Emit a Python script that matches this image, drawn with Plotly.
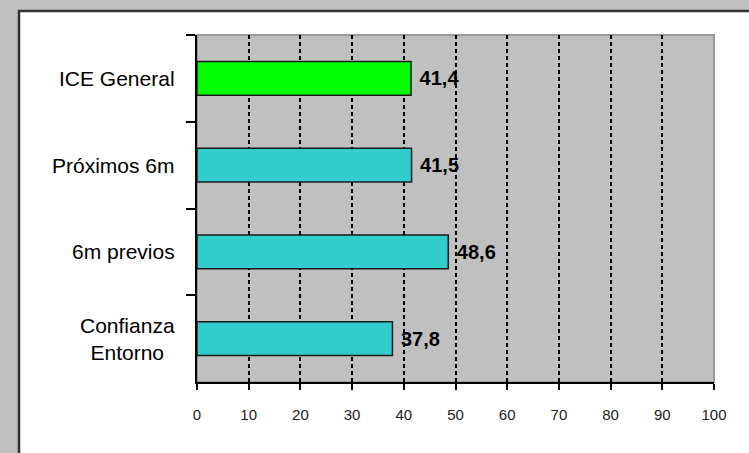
import plotly.graph_objects as go

categories = ["ICE General", "Próximos 6m", "6m previos", "Confianza<br>Entorno"]
values = [41.4, 41.5, 48.6, 37.8]
bar_colors = ["#00ff00", "#33cccc", "#33cccc", "#33cccc"]
x_ticks = [0, 10, 20, 30, 40, 50, 60, 70, 80, 90, 100]

FONT = "Liberation Sans, Arial, sans-serif"

fig = go.Figure(
    go.Bar(
        y=categories,
        x=values,
        orientation="h",
        width=0.39,
        marker=dict(color=bar_colors, line=dict(color="#1a1a1a", width=1.5)),
        texttemplate=" %{x:.1f}",
        textposition="outside",
        textfont=dict(family=FONT, size=20, color="#000000", weight="bold"),
        constraintext="none",
        cliponaxis=False,
        hoverinfo="skip",
    )
)

# category labels (centered multi-line, right-aligned against the axis)
for c in categories:
    fig.add_annotation(
        x=0, xref="paper", y=c, yref="y",
        text=c, showarrow=False,
        xanchor="right", yanchor="middle", align="center",
        xshift=-20,
        font=dict(family=FONT, size=21, color="#000000"),
    )

# outer white panel with dark border
fig.add_shape(type="rect", xref="paper", yref="paper",
              x0=-0.3443, x1=1.3, y0=-0.5, y1=1.0692,
              fillcolor="#ffffff", line=dict(color="#333333", width=2.5),
              layer="below")
# plot area gray
fig.add_shape(type="rect", xref="paper", yref="paper",
              x0=0, x1=1, y0=0, y1=1,
              fillcolor="#c0c0c0", line=dict(color="#9a9a9a", width=2),
              layer="below")
# right border over gridline at 100
fig.add_shape(type="line", xref="paper", yref="paper",
              x0=1, x1=1, y0=0, y1=1,
              line=dict(color="#9a9a9a", width=2), layer="above")

fig.update_layout(
    width=749, height=453,
    margin=dict(l=197, r=35, t=35, b=71),
    paper_bgcolor="#c0c0c0",
    plot_bgcolor="rgba(0,0,0,0)",
    separators=",.",
    showlegend=False,
    font=dict(family=FONT, color="#000000"),
)
fig.update_xaxes(
    range=[0, 100], tickvals=x_ticks,
    showgrid=True, gridcolor="#000000", gridwidth=2, griddash="4px,3px",
    zeroline=False,
    showline=True, linecolor="#000000", linewidth=2,
    ticks="outside", ticklen=6, tickwidth=2, tickcolor="#000000",
    tickfont=dict(family=FONT, size=15, color="#222222"),
    ticklabelstandoff=12,
)
fig.update_yaxes(
    type="category", autorange="reversed",
    tickson="boundaries", ticks="outside", ticklen=9, tickwidth=2, tickcolor="#000000",
    showticklabels=False, showgrid=False, zeroline=False,
    showline=True, linecolor="#000000", linewidth=2,
)

fig.write_html(
    "out.html",
    config={"displayModeBar": False, "staticPlot": True},
    post_script="document.body.style.margin='0';document.body.style.overflow='hidden';",
)
